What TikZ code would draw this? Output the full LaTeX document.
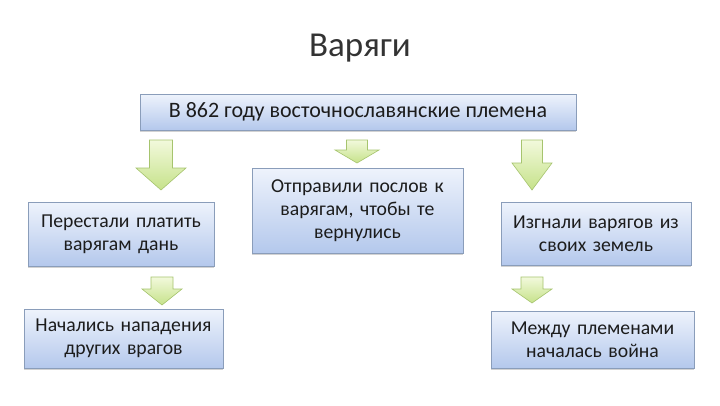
\documentclass[tikz,border=0pt]{standalone}
\usepackage{fontspec}
\setmainfont{Carlito}
\usetikzlibrary{shadows}
\definecolor{boxtop}{HTML}{EEF3FC}
\definecolor{boxbot}{HTML}{B4C8EC}
\definecolor{boxline}{HTML}{8A9DBA}
\definecolor{arrtop}{HTML}{F2F9DC}
\definecolor{arrbot}{HTML}{C6E28A}
\definecolor{arrline}{HTML}{A6C46E}
\definecolor{txt}{HTML}{1C1C1C}
\tikzset{
  box/.style={draw=boxline, line width=0.8pt, top color=boxtop, bottom color=boxbot,
    rectangle, inner sep=2pt, align=center, text=txt,
    font=\fontsize{19.7}{23}\selectfont,
    drop shadow={shadow xshift=0pt, shadow yshift=-2pt, opacity=0.35, fill=gray}},
  barrow/.style={draw=arrline, line width=0.6pt, top color=arrtop, bottom color=arrbot}
}
% \blockarrow{cx}{ytop}{yhead}{ytip}{shafthalf}{headhalf}
\newcommand\blockarrow[6]{%
  \path[barrow] (#1-#5,#2) -- (#1+#5,#2) -- (#1+#5,#3) -- (#1+#6,#3) -- (#1,#4)
    -- (#1-#6,#3) -- (#1-#5,#3) -- cycle;}
\begin{document}
\begin{tikzpicture}[x=1pt,y=-1pt]
\useasboundingbox[fill=white] (0,0) rectangle (720,405);
\node[text=black!80, font=\fontsize{35}{40}\selectfont] (title) at (360,48) {Варяги};
\node[box, minimum width=436pt, minimum height=36pt, font=\fontsize{22}{26}\selectfont] (top) at (358,112)
  {В 862 году восточнославянские племена};
\node[box, minimum width=186pt, minimum height=64pt, text width=180pt] (l1) at (121,234)
  {Перестали платить\\варягам дань};
\node[box, minimum width=211pt, minimum height=85pt, text width=205pt] (m) at (357.5,210.5)
  {Отправили послов к\\варягам, чтобы те\\вернулись};
\node[box, minimum width=190pt, minimum height=63pt, text width=184pt] (r1) at (596,233.5)
  {Изгнали варягов из\\своих земель};
\node[box, minimum width=199pt, minimum height=59pt, text width=192pt] (l2) at (123.5,338.5)
  {Начались нападения\\других врагов};
\node[box, minimum width=203pt, minimum height=57pt, text width=196pt] (r2) at (592.5,339.5)
  {Между племенами\\началась война};
\blockarrow{161}{140}{168}{190}{11.5}{25}
\blockarrow{357}{140}{150}{163}{10.5}{22}
\blockarrow{532}{140}{163}{190}{10.5}{20}
\blockarrow{162}{277}{289}{305}{11}{20}
\blockarrow{532}{277}{289}{303}{11}{20}
\end{tikzpicture}
\end{document}
